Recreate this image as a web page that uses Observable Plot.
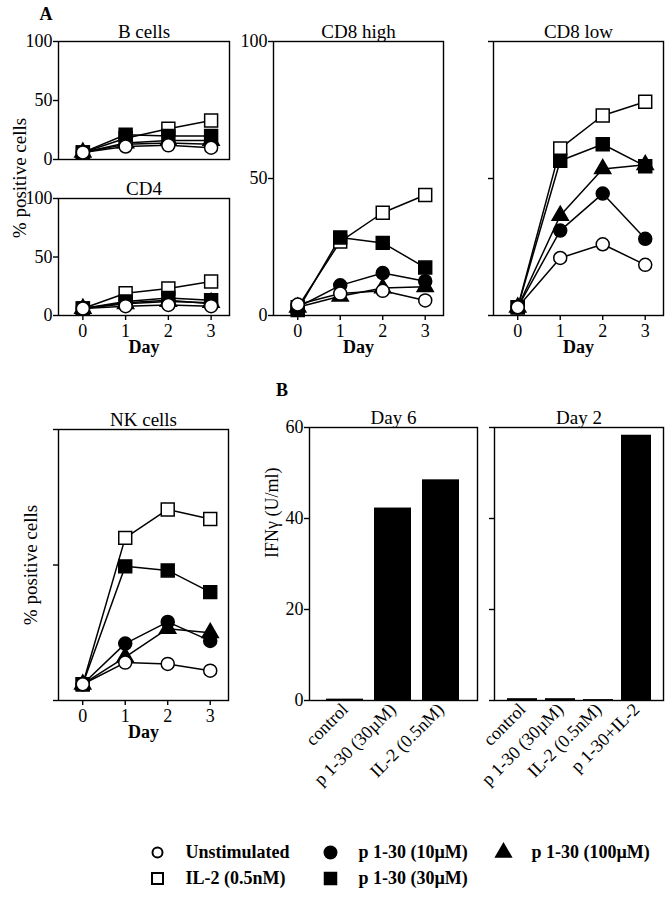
<!DOCTYPE html>
<html><head><meta charset="utf-8">
<script src="https://cdn.jsdelivr.net/npm/d3@7"></script>
<script src="https://cdn.jsdelivr.net/npm/@observablehq/plot@0.6"></script>
<style>
body{margin:0;background:#fff;}
#root{position:relative;width:667px;height:899px;font-family:"Liberation Serif",serif;color:#000;overflow:hidden;background:#fff}
.abs{position:absolute}
.lab{position:absolute;white-space:nowrap;transform:translate(-50%,-50%);line-height:1}
</style></head><body><div id="root"></div>
<script>
// ---------- data ----------
const days = [0, 1, 2, 3];
const seriesKeys = ["unstim", "il2", "p10", "p30", "p100"];
const seriesLabels = ["Unstimulated", "IL-2 (0.5nM)", "p 1-30 (10µM)", "p 1-30 (30µM)", "p 1-30 (100µM)"];

const bcells_unstim = [6, 11, 12, 10];
const bcells_il2    = [6, 18, 26, 33];
const bcells_p10    = [6, 13, 14, 13];
const bcells_p30    = [6, 21, 20, 20];
const bcells_p100   = [6, 14, 16, 16];

const cd4_unstim = [6, 8, 9, 8];
const cd4_il2    = [6, 19, 23, 29];
const cd4_p10    = [6, 11, 13, 10];
const cd4_p30    = [6, 12, 15, 13];
const cd4_p100   = [6, 10, 12, 11];

const cd8high_unstim = [4, 8, 9, 5.5];
const cd8high_il2    = [3, 27, 37.5, 44];
const cd8high_p10    = [3, 11, 15.5, 12.5];
const cd8high_p30    = [2, 28.5, 26.5, 17.5];
const cd8high_p100   = [3, 7, 10, 10.5];

const cd8low_unstim = [3, 21, 26, 18.5];
const cd8low_il2    = [3, 61, 73, 78];
const cd8low_p10    = [3, 31, 44.5, 28];
const cd8low_p30    = [3, 56.5, 62.5, 54.5];
const cd8low_p100   = [3, 36.5, 53.5, 55];

const nk_unstim = [6, 14, 13.5, 11];
const nk_il2    = [6, 60, 70.5, 67];
const nk_p10    = [6, 21, 29, 22];
const nk_p30    = [6, 49.5, 48, 40];
const nk_p100   = [6, 16, 26.5, 25];

const percentTicks = [0, 50, 100];
const ifnTicks = [0, 20, 40, 60];

const day6_conditions = ["control", "p 1-30 (30µM)", "IL-2 (0.5nM)"];
const day6_ifn = [0.3, 42.3, 48.5];
const day2_conditions = ["control", "p 1-30 (30µM)", "IL-2 (0.5nM)", "p 1-30+IL-2"];
const day2_ifn = [0.4, 0.4, 0.2, 58.3];

const legendCols = [0, 1, 2, 0, 1];
const legendRows = [0, 0, 0, 1, 1];
const legendOrder = ["unstim", "p10", "p100", "il2", "p30"];

// ---------- styles ----------
const sym = {
  unstim: {symbol: "circle", fill: "white", r: 6.5, lr: 5},
  il2:    {symbol: "square", fill: "white", r: 7.3, lr: 6.2},
  p10:    {symbol: "circle", fill: "black", r: 6.5, lr: 6},
  p30:    {symbol: "square", fill: "black", r: 7.3, lr: 6.5},
  p100:   {symbol: "triangle", fill: "black", r: 6, lr: 5.5}
};
const drawOrder = ["p100", "p10", "il2", "p30", "unstim"];
const baseStyle = {fontFamily: "Liberation Serif", fontSize: "18px", background: "transparent", overflow: "visible", maxWidth: "none", color: "black"};

const panelData = {
  bcells: {unstim: bcells_unstim, il2: bcells_il2, p10: bcells_p10, p30: bcells_p30, p100: bcells_p100},
  cd4: {unstim: cd4_unstim, il2: cd4_il2, p10: cd4_p10, p30: cd4_p30, p100: cd4_p100},
  cd8high: {unstim: cd8high_unstim, il2: cd8high_il2, p10: cd8high_p10, p30: cd8high_p30, p100: cd8high_p100},
  cd8low: {unstim: cd8low_unstim, il2: cd8low_il2, p10: cd8low_p10, p30: cd8low_p30, p100: cd8low_p100},
  nk: {unstim: nk_unstim, il2: nk_il2, p10: nk_p10, p30: nk_p30, p100: nk_p100}
};

const root = document.getElementById("root");
const PAD = {l: 50, t: 32, r: 10, b: 50};

function mount(plot, fx, fy, w, h) {
  const div = document.createElement("div");
  div.className = "abs";
  div.style.left = (fx - PAD.l) + "px";
  div.style.top = (fy - PAD.t) + "px";
  div.style.width = w + "px";
  div.style.height = h + "px";
  div.appendChild(plot);
  root.appendChild(div);
}

function linePanel(key, title, fx, fy, fw, fh, yLabels, xAxis) {
  const data = [];
  for (const s of seriesKeys) panelData[key][s].forEach((v, i) => data.push({day: days[i], value: v, series: s}));
  const marks = [
    Plot.frame({strokeWidth: 1.4}),
    Plot.axisY({ticks: percentTicks, tickSize: 5, tickPadding: 1, strokeWidth: 1.4, label: null,
      tickFormat: yLabels ? (d => String(d)) : (() => "")}),
    Plot.line(data, {x: "day", y: "value", z: "series", stroke: "black", strokeWidth: 1.5}),
    ...drawOrder.map(s => Plot.dot(data.filter(d => d.series === s), {
      x: "day", y: "value", symbol: sym[s].symbol, fill: sym[s].fill, stroke: "black", strokeWidth: 1.5, r: sym[s].r
    })),
    Plot.text([title], {text: d => d, frameAnchor: "top", dy: -4, lineAnchor: "bottom", fontSize: 19})
  ];
  if (xAxis) {
    marks.push(Plot.axisX({ticks: days, tickSize: 5, tickPadding: 4, strokeWidth: 1.4, label: null, tickFormat: d => String(d)}));
    marks.push(Plot.text(["Day"], {text: d => d, frameAnchor: "bottom", dy: 37, fontWeight: "bold"}));
  }
  const w = fw + PAD.l + PAD.r, h = fh + PAD.t + PAD.b;
  const plot = Plot.plot({
    width: w, height: h,
    marginLeft: PAD.l, marginTop: PAD.t, marginRight: PAD.r, marginBottom: PAD.b,
    x: {domain: [-0.57, 3.43], axis: null},
    y: {domain: [0, 100], axis: null},
    style: baseStyle,
    marks
  });
  mount(plot, fx, fy, w, h);
}

function barPanel(conds, values, title, fx, fy, fw, fh, yLabels) {
  const data = conds.map((c, i) => ({cond: c, value: values[i]}));
  const marks = [
    Plot.barY(data, {x: "cond", y: "value", fill: "black"}),
    Plot.frame({strokeWidth: 1.4}),
    Plot.axisY({ticks: ifnTicks, tickSize: 5, tickPadding: 1, strokeWidth: 1.4, label: null,
      tickFormat: yLabels ? (d => String(d)) : (() => "")}),
    Plot.axisX({tickRotate: -45, tickSize: 0, tickPadding: 6, label: null}),
    Plot.text([title], {text: d => d, frameAnchor: "top", dy: -4, lineAnchor: "bottom", fontSize: 19})
  ];
  if (yLabels) marks.push(Plot.text(["IFNγ (U/ml)"], {text: d => d, frameAnchor: "left", rotate: -90, dx: -37, dy: -6}));
  const w = fw + PAD.l + PAD.r, h = fh + PAD.t + PAD.b;
  const plot = Plot.plot({
    width: w, height: h,
    marginLeft: PAD.l, marginTop: PAD.t, marginRight: PAD.r, marginBottom: PAD.b,
    x: {type: "band", domain: conds, paddingInner: 0.22, paddingOuter: 0.33, axis: null},
    y: {domain: [0, 60], axis: null},
    style: baseStyle,
    marks
  });
  mount(plot, fx, fy, w, h);
}

linePanel("bcells", "B cells", 58, 41, 171, 118, true, false);
linePanel("cd4", "CD4", 58, 198, 171, 117, true, true);
linePanel("cd8high", "CD8 high", 273, 41, 170, 274, true, true);
linePanel("cd8low", "CD8 low", 493, 41, 170, 274, false, true);
linePanel("nk", "NK cells", 58, 429, 170, 271, false, true);
barPanel(day6_conditions, day6_ifn, "Day 6", 309, 427, 168, 273, true);
barPanel(day2_conditions, day2_ifn, "Day 2", 494, 427, 169, 273, false);

// legend
const legendData = legendOrder.map((s, i) => ({series: s, label: seriesLabels[seriesKeys.indexOf(s)], col: legendCols[i], row: legendRows[i]}));
const legend = Plot.plot({
  width: 667, height: 60,
  marginLeft: 157, marginRight: 164, marginTop: 17, marginBottom: 17,
  x: {domain: [0, 2], axis: null},
  y: {domain: [0, 1], reverse: true, axis: null},
  style: baseStyle,
  marks: [
    ...legendData.map(d => Plot.dot([d], {x: "col", y: "row", symbol: sym[d.series].symbol, fill: sym[d.series].fill, stroke: "black", strokeWidth: 2, r: sym[d.series].lr})),
    Plot.text(legendData, {x: "col", y: "row", text: "label", dx: 28, textAnchor: "start", fontWeight: "bold"})
  ]
});
const ldiv = document.createElement("div");
ldiv.className = "abs"; ldiv.style.left = "0px"; ldiv.style.top = "835px";
ldiv.appendChild(legend); root.appendChild(ldiv);

// panel letters and shared y labels
function label(text, x, y, size, weight, rot) {
  const d = document.createElement("div");
  d.className = "lab";
  d.textContent = text;
  d.style.left = x + "px"; d.style.top = y + "px";
  d.style.fontSize = size + "px"; d.style.fontWeight = weight;
  if (rot) d.style.transform = "translate(-50%,-50%) rotate(-90deg)";
  root.appendChild(d);
}
label("A", 46, 14, 18, "bold", false);
label("B", 282, 390, 18, "bold", false);
label("% positive cells", 19, 178, 19, "normal", true);
label("% positive cells", 30, 565, 19, "normal", true);
</script></body></html>
